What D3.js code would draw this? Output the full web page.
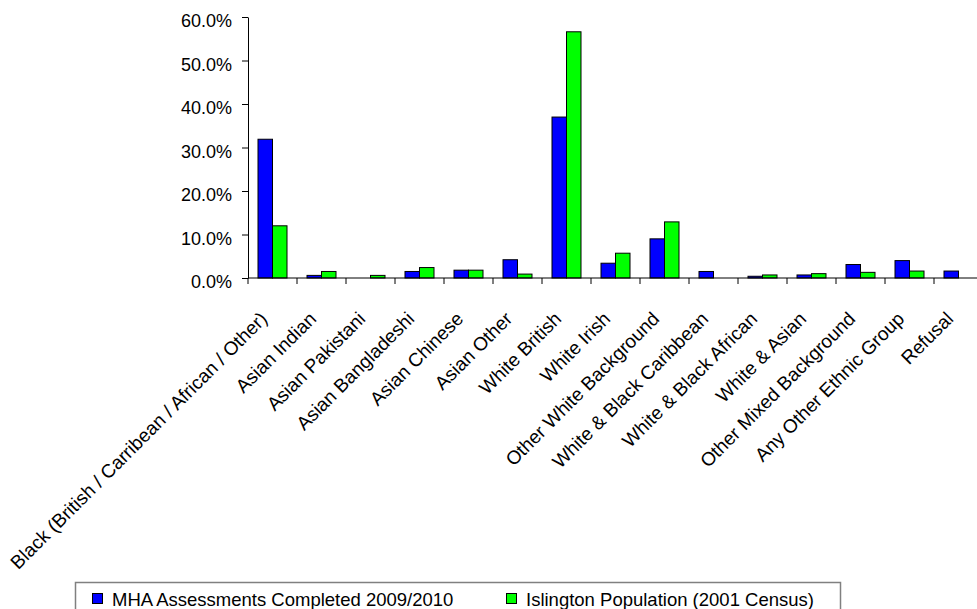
<!DOCTYPE html>
<meta charset="utf-8">
<script src="https://d3js.org/d3.v7.min.js"></script>
<style>
  body { margin: 0; background: #fff; }
  text { font-family: Arial, "Liberation Sans", sans-serif; fill: #000; }
</style>
<div id="my_dataviz"></div>
<script>
// categories and series
var categories = ["Black (British / Carribean / African / Other)", "Asian Indian", "Asian Pakistani",
  "Asian Bangladeshi", "Asian Chinese", "Asian Other", "White British", "White Irish",
  "Other White Background", "White & Black Caribbean", "White & Black African", "White & Asian",
  "Other Mixed Background", "Any Other Ethnic Group", "Refusal"];
var seriesNames = ["MHA Assessments Completed 2009/2010", "Islington Population (2001 Census)"];
var mhaValues = [0.319, 0.006, 0.0, 0.015, 0.018, 0.042, 0.370, 0.034, 0.090, 0.015, 0.004, 0.007, 0.031, 0.040, 0.016];
var popValues = [0.120, 0.015, 0.006, 0.024, 0.018, 0.009, 0.566, 0.057, 0.129, 0.0, 0.007, 0.010, 0.013, 0.016, 0.0];
var yTicks = [0, 0.1, 0.2, 0.3, 0.4, 0.5, 0.6];
var colors = ["#0000ff", "#00ff00"];

var W = 977, H = 609;
var margin = {top: 17, left: 248},
    plotRight = 983, baseY = 278;

var svg = d3.select("#my_dataviz")
  .append("svg")
    .attr("width", W)
    .attr("height", H);

var data = categories.map(function(c, i) {
  return {cat: c, vals: [mhaValues[i], popValues[i]]};
});

var x = d3.scaleBand()
  .domain(categories)
  .range([margin.left, plotRight])
  .padding(0);

var gap = x.bandwidth() * 20 / 49;
var xs = d3.scaleBand()
  .domain([0, 1])
  .range([gap / 2, x.bandwidth() - gap / 2])
  .padding(0);

var y = d3.scaleLinear()
  .domain([0, 0.6])
  .range([baseY, margin.top]);

// bars
var groups = svg.append("g")
  .selectAll("g")
  .data(data)
  .enter()
  .append("g")
    .attr("transform", function(d) { return "translate(" + x(d.cat) + ",0)"; });

groups.selectAll("rect")
  .data(function(d) { return d.vals.map(function(v, k) { return {k: k, v: v}; }); })
  .enter()
  .filter(function(d) { return d.v > 0; })
  .append("rect")
    .attr("x", function(d) { return xs(d.k); })
    .attr("y", function(d) { return y(d.v); })
    .attr("width", xs.bandwidth())
    .attr("height", function(d) { return baseY - y(d.v); })
    .style("fill", function(d) { return colors[d.k]; })
    .style("stroke", "#000")
    .style("stroke-width", 1);

// Y axis
var yAxis = svg.append("g")
  .attr("transform", "translate(" + margin.left + ",0)")
  .call(d3.axisLeft(y).tickValues(yTicks).tickFormat(d3.format(".1%")).tickSize(6).tickSizeOuter(0));
yAxis.select(".domain").attr("stroke", "#000");
yAxis.selectAll(".tick text")
  .attr("x", -16)
  .attr("dy", "0.55em")
  .style("font-size", "18px");

// X axis: ticks on category boundaries
var xAxis = svg.append("g");
xAxis.append("line")
  .attr("x1", margin.left).attr("x2", plotRight)
  .attr("y1", baseY).attr("y2", baseY)
  .attr("stroke", "#000");
xAxis.selectAll(".xtick")
  .data(categories)
  .enter()
  .append("line")
    .attr("x1", function(d) { return x(d); })
    .attr("x2", function(d) { return x(d); })
    .attr("y1", baseY).attr("y2", baseY + 6)
    .attr("stroke", "#000");

xAxis.selectAll(".xlabel")
  .data(categories)
  .enter()
  .append("text")
    .attr("text-anchor", "end")
    .style("font-size", "19px")
    .attr("transform", function(d) {
      return "translate(" + (x(d) + x.bandwidth() / 2 - 4) + "," + (baseY + 42) + ") rotate(-45)";
    })
    .text(function(d) { return d; });

// legend
var legend = svg.append("g");
legend.append("rect")
  .attr("x", 75.5).attr("y", 582.5)
  .attr("width", 765).attr("height", 40)
  .style("fill", "none")
  .style("stroke", "#808080")
  .style("stroke-width", 1.5);

var legX = [92, 506];
seriesNames.forEach(function(s, i) {
  legend.append("rect")
    .attr("x", legX[i] + 0.5).attr("y", 593.5)
    .attr("width", 10).attr("height", 10)
    .style("fill", colors[i])
    .style("stroke", "#000");
  legend.append("text")
    .attr("x", legX[i] + 20).attr("y", 606)
    .style("font-size", "18.5px")
    .text(s);
});
</script>
